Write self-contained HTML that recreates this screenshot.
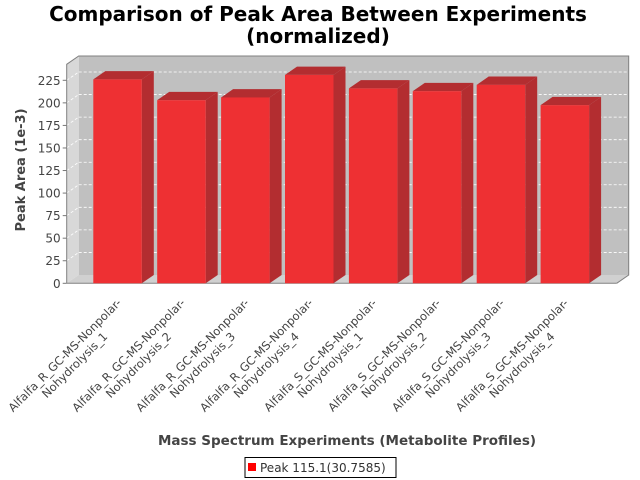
<!DOCTYPE html>
<html><head><meta charset="utf-8"><style>
html,body{margin:0;padding:0;background:#fff;}
svg{display:block;font-family:"DejaVu Sans","Liberation Sans",sans-serif;}
</style></head><body>
<svg id="chart" width="640" height="480" viewBox="0 0 640 480">
<text x="318" y="21" text-anchor="middle" font-size="20" font-weight="bold" fill="#000">Comparison of Peak Area Between Experiments<tspan x="318" y="43">(normalized)</tspan></text>
<g id="plot"></g>
<text transform="translate(25,170) rotate(-90)" text-anchor="middle" font-size="13" font-weight="bold" fill="#444">Peak Area (1e-3)</text>
<text x="347" y="445" text-anchor="middle" font-size="13.5" font-weight="bold" fill="#444">Mass Spectrum Experiments (Metabolite Profiles)</text>
<g>
<rect x="245" y="457.5" width="151" height="20" fill="#fff" stroke="#000"/>
<rect x="248" y="463" width="8" height="8" fill="#ff0000"/>
<text x="260" y="472" font-size="12" fill="#333">Peak 115.1(30.7585)</text>
</g>
</svg>
<script>
const categories = ["Alfalfa_R_GC-MS-Nonpolar-|Nohydrolysis_1","Alfalfa_R_GC-MS-Nonpolar-|Nohydrolysis_2","Alfalfa_R_GC-MS-Nonpolar-|Nohydrolysis_3","Alfalfa_R_GC-MS-Nonpolar-|Nohydrolysis_4","Alfalfa_S_GC-MS-Nonpolar-|Nohydrolysis_1","Alfalfa_S_GC-MS-Nonpolar-|Nohydrolysis_2","Alfalfa_S_GC-MS-Nonpolar-|Nohydrolysis_3","Alfalfa_S_GC-MS-Nonpolar-|Nohydrolysis_4"];
const values = [226, 203, 206, 231, 216, 213, 220, 197.5];
const yTicks = [0,25,50,75,100,125,150,175,200,225];

const NS="http://www.w3.org/2000/svg";
const plot=document.getElementById('plot');
const L=66.7,R=616.7,Y0=283.3,DX=12,DY=-8.3,K=0.9022,TOP=56;
function y(v){return Y0-v*K;}
function x(i){return 93.3+i*63.9;}
const BW=48.5;
function mk(tag,attrs,parent){const e=document.createElementNS(NS,tag);for(const k in attrs)e.setAttribute(k,attrs[k]);(parent||plot).appendChild(e);return e;}

// back wall
let e=mk('polygon',{points:`${L+DX},${TOP} ${R+DX},${TOP} ${R+DX},${Y0+DY} ${L+DX},${Y0+DY}`,fill:'#c0c0c0'});


e=mk('polygon',{points:`${L},${TOP-DY} ${L+DX},${TOP} ${L+DX},${Y0+DY} ${L},${Y0}`,fill:'#d8d8d8'});


e=mk('polygon',{points:`${L},${Y0} ${L+DX},${Y0+DY} ${R+DX},${Y0+DY} ${R},${Y0}`,fill:'#d0d0d0'});


// grid
yTicks.forEach(t=>{
  if(t>0){
    const g=mk('line',{x1:L+DX,x2:R+DX,y1:y(t)+DY,y2:y(t)+DY,stroke:'#fff','stroke-width':0.8,'stroke-dasharray':'3,2'});
    
    
    const d=mk('line',{x1:L,x2:L+DX,y1:y(t),y2:y(t)+DY,stroke:'#fff','stroke-width':0.8,'stroke-dasharray':'3,2'});
    
    
  }
  const tk=mk('line',{x1:L-4,x2:L,y1:y(t),y2:y(t),stroke:'#777'});
  
  
  const tl=mk('text',{x:L-6,y:y(t)+4.5,'text-anchor':'end','font-size':12,fill:'#444'});
  tl.textContent=t;
  
  
});
// outline
e=mk('polyline',{points:`${L},${Y0} ${L},${TOP-DY} ${L+DX},${TOP} ${R+DX},${TOP} ${R+DX},${Y0+DY} ${R},${Y0}`,fill:'none',stroke:'#808080','stroke-width':1});


e=mk('line',{x1:L,x2:R,y1:Y0,y2:Y0,stroke:'#808080'});


// bars
values.forEach((v,i)=>{
  const x0=x(i),x1=x0+BW,yt=y(v);
  const g=mk('g',{});
  
  
  mk('polygon',{points:`${x1},${yt} ${x1+DX},${yt+DY} ${x1+DX},${Y0+DY} ${x1},${Y0}`,fill:'#b32d30'},g);
  mk('polygon',{points:`${x0},${yt} ${x0+DX},${yt+DY} ${x1+DX},${yt+DY} ${x1},${yt}`,fill:'#b32d30'},g);
  mk('rect',{x:x0,y:yt,width:BW,height:Y0-yt,fill:'#ee3033'},g);
  // label
  const parts=categories[i].split('|');
  const cx=x0+BW/2;
  const t=mk('text',{transform:`translate(${cx-50},${358}) rotate(-45)`,'text-anchor':'middle','font-size':11.5,fill:'#444'});
  
  
  const s1=mk('tspan',{x:0,y:0},t);s1.textContent=parts[0];
  const s2=mk('tspan',{x:0,y:14},t);s2.textContent=parts[1];
});
</script>
</body></html>
